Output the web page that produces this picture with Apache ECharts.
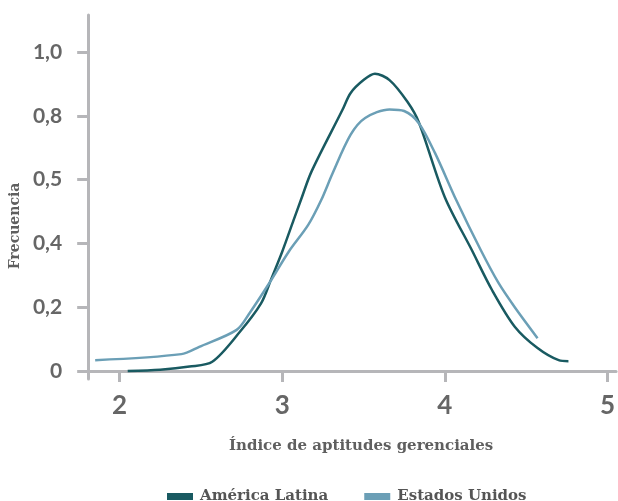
<!DOCTYPE html>
<html>
<head>
<meta charset="utf-8">
<script src="https://cdn.jsdelivr.net/npm/echarts@6/dist/echarts.min.js"></script>
<style>
  html, body { margin: 0; padding: 0; background: #fff; }
  #chart { width: 618px; height: 501px; }
</style>
</head>
<body>
<div id="chart"></div>
<script>
// valores
const latamX = [2.05, 2.25, 2.43, 2.57, 2.74, 2.87, 2.93, 3.00, 3.07, 3.115, 3.18, 3.37, 3.42, 3.50, 3.57, 3.66, 3.77, 3.84, 4.00, 4.165, 4.29, 4.43, 4.57, 4.70, 4.76]
const latamY = [0.0, 0.004, 0.014, 0.029, 0.123, 0.212, 0.285, 0.374, 0.473, 0.536, 0.625, 0.818, 0.871, 0.912, 0.932, 0.912, 0.844, 0.78, 0.545, 0.38, 0.254, 0.139, 0.072, 0.034, 0.031]
const usX = [1.85, 2.38, 2.49, 2.72, 2.80, 2.92, 3.04, 3.16, 3.24, 3.31, 3.42, 3.51, 3.66, 3.75, 3.84, 3.94, 4.07, 4.22, 4.33, 4.43, 4.57]
const usY = [0.034, 0.053, 0.076, 0.129, 0.182, 0.275, 0.374, 0.458, 0.536, 0.62, 0.74, 0.793, 0.82, 0.815, 0.777, 0.683, 0.536, 0.38, 0.276, 0.2, 0.103]

const xTicks = [2, 3, 4, 5]
const yTicks = [0, 0.2, 0.4, 0.6, 0.8, 1.0]
const yTickLabels = ['0', '0,2', '0,4', '0,5', '0,8', '1,0']

const zip = (xs, ys) => xs.map((x, i) => [x, ys[i]])

const axisGray = '#b6b6b9'
const labelGray = '#666666'
const serif = '"DejaVu Serif", serif'

const chart = echarts.init(document.getElementById('chart'))
chart.setOption({
  animation: false,
  grid: { left: 88, right: 0, top: 15, bottom: 122 },
  legend: {
    left: 162, top: 484,
    itemWidth: 26, itemHeight: 7, itemGap: 36,
    icon: 'rect',
    textStyle: { fontFamily: serif, fontWeight: 'bold', fontSize: 15, color: '#555555', padding: [0, 0, 0, 2] },
    data: ['América Latina', 'Estados Unidos'],
  },
  xAxis: {
    type: 'value',
    min: 1.807, max: 5.053,
    name: 'Índice de aptitudes gerenciales',
    nameLocation: 'middle',
    nameGap: 60,
    nameTextStyle: { fontFamily: serif, fontWeight: 'bold', fontSize: 15, color: '#5f5f5f', padding: [0, 0, 0, 18] },
    splitLine: { show: false },
    axisLine: { lineStyle: { color: axisGray, width: 3 } },
    axisTick: { show: true, length: 11, lineStyle: { color: axisGray, width: 3 }, customValues: xTicks },
    axisLabel: { customValues: xTicks, margin: 14, fontFamily: 'Lato', fontWeight: 'bold', fontSize: 26, color: labelGray },
  },
  yAxis: {
    type: 'value',
    min: -0.025, max: 1.116,
    name: 'Frecuencia',
    nameLocation: 'middle',
    nameGap: 62,
    nameTextStyle: { fontFamily: serif, fontWeight: 'bold', fontSize: 14, color: '#5f5f5f', padding: [0, 58, 0, 0] },
    splitLine: { show: false },
    axisLine: { show: true, lineStyle: { color: axisGray, width: 3 } },
    axisTick: { show: true, length: 11, lineStyle: { color: axisGray, width: 3 }, customValues: yTicks },
    axisLabel: {
      customValues: yTicks, margin: 26,
      fontFamily: 'Lato', fontWeight: 'bold', fontSize: 21, color: labelGray,
      formatter: v => yTickLabels[yTicks.findIndex(t => Math.abs(t - v) < 1e-6)] ?? '',
    },
  },
  series: [
    {
      name: 'América Latina', type: 'line', smooth: 0.3, showSymbol: false,
      data: zip(latamX, latamY),
      lineStyle: { color: '#195a61', width: 2.5 },
      itemStyle: { color: '#195a61' },
    },
    {
      name: 'Estados Unidos', type: 'line', smooth: 0.3, showSymbol: false,
      data: zip(usX, usY),
      lineStyle: { color: '#6b9fb6', width: 2.5 },
      itemStyle: { color: '#6b9fb6' },
    },
  ],
})
</script>
</body>
</html>
